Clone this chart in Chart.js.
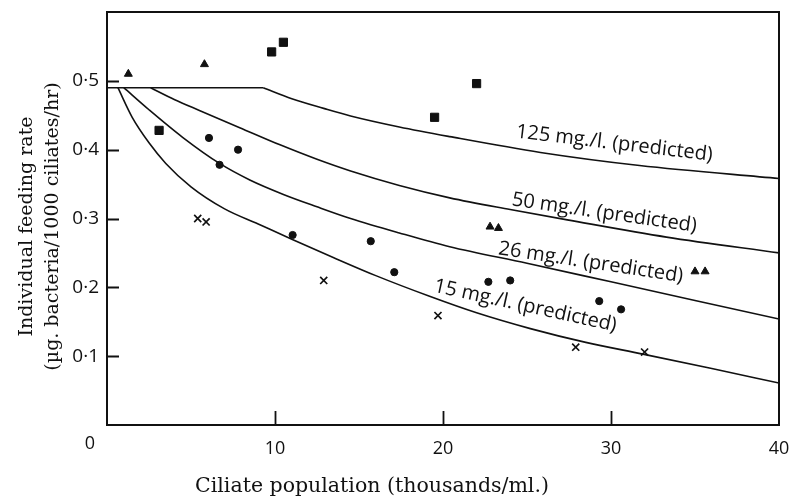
<!DOCTYPE html>
<html>
<head>
<meta charset="utf-8">
<script src="https://cdn.jsdelivr.net/npm/chart.js@4/dist/chart.umd.min.js"></script>
<style>
  html, body { margin: 0; padding: 0; background: #fff; }
  #wrap { width: 789px; height: 502px; }
</style>
</head>
<body>
<div id="wrap"><canvas id="chart" width="789" height="502"></canvas></div>
<script>
// Common plateau of the predicted curves at low ciliate numbers
const plateauX = [0, 9.3];
const plateauY = [0.49, 0.49];

// Predicted feeding-rate curves (x: ciliates, thousands/ml; y: feeding rate)
const curve125X = [9.3, 11.0, 12.9, 14.5, 17.4, 20.4, 25.8, 31.7, 40];
const curve125Y = [0.49, 0.474, 0.460, 0.449, 0.433, 0.419, 0.396, 0.377, 0.358];

const curve50X = [2.6, 4.0, 5.5, 7.9, 10.3, 12.5, 14.5, 17.4, 20.4, 24.0, 27.4, 33.3, 40];
const curve50Y = [0.49, 0.473, 0.457, 0.432, 0.407, 0.386, 0.369, 0.348, 0.330, 0.313, 0.298, 0.273, 0.250];

const curve26X = [1.0, 2.5, 4.5, 6.7, 8.5, 10.5, 12.5, 14.5, 17.4, 20.4, 25.0, 30.0, 35.0, 40];
const curve26Y = [0.49, 0.458, 0.418, 0.380, 0.356, 0.335, 0.317, 0.300, 0.279, 0.259, 0.235, 0.208, 0.181, 0.154];

const curve15X = [0.65, 1.5, 2.5, 3.5, 5.0, 7.0, 9.0, 11.0, 13.5, 16.0, 19.2, 22.0, 25.2, 28.5, 31.9, 36.0, 40];
const curve15Y = [0.49, 0.447, 0.410, 0.380, 0.346, 0.314, 0.292, 0.270, 0.243, 0.217, 0.187, 0.163, 0.140, 0.120, 0.103, 0.082, 0.061];

// Observed feeding rates
const squareX = [3.1, 9.8, 10.5, 19.5, 22.0];
const squareY = [0.428, 0.542, 0.556, 0.447, 0.496];
const triangleX = [1.27, 5.8, 22.8, 23.3, 35.0, 35.6];
const triangleY = [0.510, 0.524, 0.288, 0.286, 0.223, 0.223];
const circleX = [6.07, 6.7, 7.8, 11.05, 15.7, 17.1, 22.7, 24.0, 29.3, 30.6];
const circleY = [0.417, 0.378, 0.400, 0.276, 0.267, 0.222, 0.208, 0.210, 0.180, 0.168];
const crossX = [5.4, 5.9, 12.9, 19.7, 27.9, 32.0];
const crossY = [0.300, 0.295, 0.210, 0.159, 0.113, 0.106];

// Axis ticks and labels
const xTickValues = [0, 10, 20, 30, 40];
const xTickLabels = ['0', '10', '20', '30', '40'];
const yTickValues = [0.1, 0.2, 0.3, 0.4, 0.5];
const yTickLabels = ['0·1', '0·2', '0·3', '0·4', '0·5'];
const originLabel = '0';

// Curve captions
const curveLabels = ['125 mg./l. (predicted)', '50 mg./l. (predicted)', '26 mg./l. (predicted)', '15 mg./l. (predicted)'];
const labelAnchorX = [30.2, 29.6, 28.8, 24.9];
const labelAnchorY = [0.409, 0.308, 0.236, 0.173];
const labelAngleDeg = [6.8, 8.2, 8.6, 12.4];

const xTitle = 'Ciliate population (thousands/ml.)';
const yTitleLines = ['Individual feeding rate', '(µg. bacteria/1000 ciliates/hr)'];

const pts = (xs, ys) => xs.map((x, i) => ({ x, y: ys[i] }));

const INK = '#111';
const SANS = '"Open Sans", "DejaVu Sans", sans-serif';
const SERIF = '"DejaVu Serif", "Liberation Serif", serif';

function curveDataset(xs, ys, smooth) {
  return {
    type: 'line', data: pts(xs, ys), borderColor: INK, borderWidth: 1.6,
    pointRadius: 0, fill: false, order: 2,
    cubicInterpolationMode: smooth ? 'monotone' : 'default', tension: 0
  };
}
function markerDataset(xs, ys, style, radius, extra) {
  return Object.assign({
    type: 'scatter', data: pts(xs, ys), pointStyle: style, pointRadius: radius,
    backgroundColor: INK, borderColor: INK, borderWidth: 1, order: 1
  }, extra || {});
}

const decorations = {
  id: 'decorations',
  afterDraw(chart) {
    const { ctx, chartArea: a, scales: { x, y } } = chart;
    ctx.save();
    // frame
    ctx.strokeStyle = INK;
    ctx.lineWidth = 2;
    ctx.strokeRect(a.left, a.top, a.right - a.left, a.bottom - a.top);
    // inward tick marks
    ctx.lineWidth = 1.8;
    ctx.beginPath();
    yTickValues.forEach(v => {
      const py = Math.round(y.getPixelForValue(v)) + 0.5;
      ctx.moveTo(a.left, py); ctx.lineTo(a.left + 12, py);
    });
    xTickValues.slice(1, -1).forEach(v => {
      const px = Math.round(x.getPixelForValue(v)) + 0.5;
      ctx.moveTo(px, a.bottom); ctx.lineTo(px, a.bottom - 14);
    });
    ctx.stroke();
    // origin label
    ctx.fillStyle = INK;
    ctx.font = '18px ' + SANS;
    ctx.textAlign = 'center';
    ctx.textBaseline = 'middle';
    ctx.fillText(originLabel, a.left - 17, a.bottom + 19);
    // curve captions
    ctx.font = '20px ' + SANS;
    curveLabels.forEach((t, i) => {
      ctx.save();
      ctx.translate(x.getPixelForValue(labelAnchorX[i]), y.getPixelForValue(labelAnchorY[i]));
      ctx.rotate(labelAngleDeg[i] * Math.PI / 180);
      ctx.fillText(t, 0, 0);
      ctx.restore();
    });
    // axis titles
    ctx.textBaseline = 'alphabetic';
    ctx.font = '20.5px ' + SERIF;
    ctx.fillText(xTitle, 372, 492);
    ctx.font = '19px ' + SERIF;
    const cy = (a.top + a.bottom) / 2 + 8;
    [32, 58].forEach((bx, i) => {
      ctx.save();
      ctx.translate(bx, cy);
      ctx.rotate(-Math.PI / 2);
      ctx.fillText(yTitleLines[i], 0, 0);
      ctx.restore();
    });
    ctx.restore();
  }
};

new Chart(document.getElementById('chart'), {
  data: {
    datasets: [
      curveDataset(plateauX, plateauY, false),
      curveDataset(curve125X, curve125Y, true),
      curveDataset(curve50X, curve50Y, true),
      curveDataset(curve26X, curve26Y, true),
      curveDataset(curve15X, curve15Y, true),
      markerDataset(squareX, squareY, 'rect', 5.8),
      markerDataset(triangleX, triangleY, 'triangle', 4.6),
      markerDataset(circleX, circleY, 'circle', 3.6),
      markerDataset(crossX, crossY, 'crossRot', 5, { borderWidth: 1.7 })
    ]
  },
  options: {
    responsive: false,
    animation: false,
    layout: { padding: { top: 12, right: 10, left: 0, bottom: 0 } },
    plugins: { legend: { display: false }, tooltip: { enabled: false } },
    scales: {
      x: {
        type: 'linear', min: 0, max: 40,
        border: { display: false },
        grid: { display: false, drawTicks: false },
        afterBuildTicks: s => { s.ticks = xTickValues.map(v => ({ value: v })); },
        ticks: {
          padding: 13, color: INK, font: { family: SANS, size: 18 }, maxRotation: 0,
          callback: v => (v === 0 ? '' : xTickLabels[xTickValues.indexOf(v)])
        },
        afterFit: s => { s.height = 77; s.paddingLeft = 0; s.paddingRight = 0; }
      },
      y: {
        type: 'linear', min: 0, max: 0.6,
        border: { display: false },
        grid: { display: false, drawTicks: false },
        afterBuildTicks: s => { s.ticks = yTickValues.map(v => ({ value: v })); },
        ticks: {
          padding: 8, color: INK, font: { family: SANS, size: 19 },
          callback: v => {
            const i = yTickValues.findIndex(t => Math.abs(t - v) < 1e-9);
            return i < 0 ? '' : yTickLabels[i];
          }
        },
        afterFit: s => { s.width = 107; s.paddingTop = 0; s.paddingBottom = 0; }
      }
    }
  },
  plugins: [decorations]
});
</script>
</body>
</html>
